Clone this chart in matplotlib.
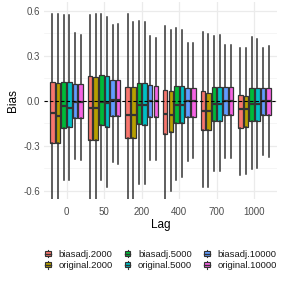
import matplotlib
matplotlib.use("Agg")
import matplotlib.pyplot as plt
from matplotlib.legend_handler import HandlerBase
from matplotlib.patches import Rectangle
from matplotlib.lines import Line2D

plt.rcParams['font.family'] = ['Liberation Sans', 'DejaVu Sans']

lags = ["0", "50", "200", "400", "700", "1000"]
series = ["biasadj.2000", "original.2000", "biasadj.5000",
          "original.5000", "biasadj.10000", "original.10000"]
colors = ["#F8766D", "#B79F00", "#00BA38", "#00BFC4", "#619CFF", "#F564E3"]

# per series: values across lags
q3 = {
    "biasadj.2000":   [0.124, 0.165, 0.090, 0.072, 0.065, 0.038],
    "original.2000":  [0.120, 0.160, 0.090, 0.068, 0.054, 0.034],
    "biasadj.5000":   [0.126, 0.170, 0.120, 0.100, 0.095, 0.088],
    "original.5000":  [0.126, 0.165, 0.117, 0.100, 0.095, 0.083],
    "biasadj.10000":  [0.113, 0.137, 0.103, 0.088, 0.090, 0.083],
    "original.10000": [0.110, 0.140, 0.100, 0.088, 0.090, 0.085],
}
med = {
    "biasadj.2000":   [-0.081, -0.045, -0.097, -0.090, -0.070, -0.056],
    "original.2000":  [-0.103, -0.045, -0.097, -0.097, -0.070, -0.056],
    "biasadj.5000":   [-0.036, -0.010, -0.025, -0.025, -0.018, -0.023],
    "original.5000":  [-0.047, -0.012, -0.025, -0.025, -0.018, -0.020],
    "biasadj.10000":  [-0.005, 0.005, -0.002, -0.002, 0.000, -0.003],
    "original.10000": [-0.005, 0.007, -0.002, -0.002, 0.000, -0.003],
}
q1 = {
    "biasadj.2000":   [-0.278, -0.260, -0.250, -0.220, -0.193, -0.178],
    "original.2000":  [-0.278, -0.260, -0.250, -0.210, -0.197, -0.175],
    "biasadj.5000":   [-0.182, -0.163, -0.155, -0.150, -0.133, -0.133],
    "original.5000":  [-0.173, -0.172, -0.160, -0.150, -0.133, -0.133],
    "biasadj.10000":  [-0.116, -0.104, -0.107, -0.105, -0.093, -0.096],
    "original.10000": [-0.116, -0.104, -0.107, -0.105, -0.093, -0.096],
}
whi = {
    "biasadj.2000":   [0.579, 0.570, 0.580, 0.500, 0.460, 0.354],
    "original.2000":  [0.580, 0.580, 0.525, 0.473, 0.445, 0.354],
    "biasadj.5000":   [0.570, 0.580, 0.530, 0.487, 0.432, 0.425],
    "original.5000":  [0.570, 0.560, 0.527, 0.473, 0.440, 0.415],
    "biasadj.10000":  [0.455, 0.505, 0.432, 0.388, 0.370, 0.354],
    "original.10000": [0.440, 0.515, 0.420, 0.388, 0.370, 0.365],
}
wlo = {
    "biasadj.2000":   [-0.700, -0.700, -0.700, -0.700, -0.578, -0.493],
    "original.2000":  [-0.700, -0.700, -0.700, -0.600, -0.578, -0.485],
    "biasadj.5000":   [-0.530, -0.530, -0.556, -0.530, -0.470, -0.453],
    "original.5000":  [-0.530, -0.575, -0.556, -0.510, -0.470, -0.447],
    "biasadj.10000":  [-0.387, -0.410, -0.393, -0.400, -0.378, -0.360],
    "original.10000": [-0.393, -0.420, -0.395, -0.383, -0.383, -0.375],
}

W, H = 284, 284
fig = plt.figure(figsize=(2.84, 2.84), dpi=100)
ax = fig.add_axes([44 / W, 1 - 199 / H, (277 - 44) / W, (199 - 2) / H])

edge = "#333333"
dodge = 0.15
bw = 0.12
for si, s in enumerate(series):
    stats = []
    pos = []
    for li in range(len(lags)):
        stats.append(dict(med=med[s][li], q1=q1[s][li], q3=q3[s][li],
                          whislo=wlo[s][li], whishi=whi[s][li], fliers=[]))
        pos.append(li + (si - 2.5) * dodge)
    ax.bxp(stats, positions=pos, widths=bw, patch_artist=True,
           showfliers=False, showcaps=False, manage_ticks=False,
           boxprops=dict(facecolor=colors[si], edgecolor=edge, linewidth=0.9),
           medianprops=dict(color=edge, linewidth=1.6, solid_capstyle='butt'),
           whiskerprops=dict(color=edge, linewidth=1.1))

ax.axhline(0, color="black", linestyle=(0, (3, 2)), linewidth=0.8, zorder=5)

ax.set_xlim(-0.6, 5.6)
ax.set_ylim(-0.655, 0.66)
ax.set_xticks(range(len(lags)))
ax.set_xticklabels(lags)
ax.set_yticks([-0.6, -0.3, 0.0, 0.3, 0.6])
ax.set_yticklabels(["-0.6", "-0.3", "0.0", "0.3", "0.6"])
ax.set_yticks([-0.45, -0.15, 0.15, 0.45], minor=True)
ax.grid(True, which="major", color="#EBEBEB", linewidth=0.9)
ax.grid(True, which="minor", axis="y", color="#F2F2F2", linewidth=0.5)
ax.set_axisbelow(True)
for sp in ax.spines.values():
    sp.set_visible(False)
ax.tick_params(which="both", length=0, labelsize=7, labelcolor="#4D4D4D")
ax.tick_params(axis="x", pad=6)
ax.tick_params(axis="y", pad=3)
ax.set_xlabel("Lag", fontsize=8.5, labelpad=1)
ax.set_ylabel("Bias", fontsize=8.5, labelpad=3)


class BoxHandler(HandlerBase):
    def create_artists(self, legend, orig_handle, xdescent, ydescent,
                       width, height, fontsize, trans):
        c = orig_handle.get_facecolor()
        cx = -xdescent + width / 2
        bw_ = width * 0.75
        bh = height * 0.7
        by = -ydescent + (height - bh) / 2
        l1 = Line2D([cx, cx], [-ydescent, -ydescent + height], color=edge, lw=0.8, transform=trans)
        r = Rectangle((cx - bw_ / 2, by), bw_, bh, facecolor=c, edgecolor=edge, lw=0.8, transform=trans)
        l2 = Line2D([cx - bw_ / 2, cx + bw_ / 2], [by + bh / 2, by + bh / 2], color=edge, lw=1.0, transform=trans)
        return [l1, r, l2]


handles = [Rectangle((0, 0), 1, 1, facecolor=c) for c in colors]
leg = fig.legend(handles, series, loc="center", bbox_to_anchor=(0.565, 1 - 260 / H),
                 ncol=3, frameon=False, fontsize=6.8, handlelength=0.8,
                 handleheight=0.8, handletextpad=0.7, columnspacing=1.2,
                 labelspacing=0.25, handler_map={Rectangle: BoxHandler()})
for t in leg.get_texts():
    t.set_color("#1A1A1A")

fig.savefig("out.png", dpi=100, facecolor="white")
